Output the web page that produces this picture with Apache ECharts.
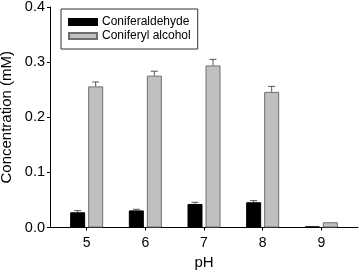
<!DOCTYPE html>
<html><head><meta charset="utf-8">
<script src="https://cdn.jsdelivr.net/npm/echarts@6/dist/echarts.min.js"></script>
<style>html,body{margin:0;padding:0;background:#fff}#c{width:359px;height:272px}</style>
</head><body><div id="c"></div>
<script>
var phValues = [5, 6, 7, 8, 9];
var aldehyde = [0.0276, 0.031, 0.0427, 0.0458, 0.002];
var aldehydeErr = [0.003, 0.002, 0.003, 0.003, 0];
var alcohol = [0.256, 0.2755, 0.294, 0.246, 0.0095];
var alcoholErr = [0.008, 0.008, 0.011, 0.010, 0];
var yTicks = [0, 0.1, 0.2, 0.3, 0.4];

var FONT = 'Liberation Sans';
function pairs(v){ return phValues.map(function(x,i){ return [x, v[i]]; }); }
function triples(v,e){ return phValues.map(function(x,i){ return [x, v[i], e[i]]; }); }
function errRender(dx){
  return function(params, api){
    var x = api.value(0), y = api.value(1), e = api.value(2);
    if (!e) return null;
    var p1 = api.coord([x, y]), p2 = api.coord([x, y + e]);
    var cx = p1[0] + dx;
    return {type:'group', children:[
      {type:'line', shape:{x1:cx,y1:p1[1],x2:cx,y2:p2[1]}, style:{stroke:'#555',lineWidth:1}},
      {type:'line', shape:{x1:cx-3.5,y1:p2[1],x2:cx+3.5,y2:p2[1]}, style:{stroke:'#555',lineWidth:1}}
    ]};
  };
}
var chart = echarts.init(document.getElementById('c'));
chart.setOption({
  animation:false,
  textStyle:{fontFamily:FONT},
  grid:{left:50, right:1, top:7, bottom:44.5, outerBoundsMode:'none', containLabel:false},
  legend:{
    orient:'vertical', left:61, top:9, padding:[7,7,7,7], itemGap:2, icon:'rect',
    itemWidth:28, itemHeight:6, borderColor:'#333', borderWidth:1,
    textStyle:{fontFamily:FONT, fontSize:12, color:'#000'},
    data:['Coniferaldehyde','Coniferyl alcohol']
  },
  xAxis:{
    type:'value', min:4.375, max:9.625,
    name:'pH', nameLocation:'middle', nameGap:28,
    nameTextStyle:{fontFamily:FONT, fontSize:15, color:'#000'},
    axisLine:{show:true, onZero:false, lineStyle:{color:'#000'}},
    axisTick:{show:true, inside:false, length:3, customValues:phValues, lineStyle:{color:'#000'}},
    axisLabel:{customValues:phValues, fontFamily:FONT, fontSize:14, color:'#000', margin:9},
    splitLine:{show:false}
  },
  yAxis:{
    type:'value', min:0, max:0.4, interval:0.1,
    name:'Concentration (mM)', nameLocation:'middle', nameGap:36,
    nameTextStyle:{fontFamily:FONT, fontSize:15, color:'#000'},
    axisLine:{show:true, lineStyle:{color:'#000'}},
    axisTick:{show:true, length:3, customValues:yTicks, lineStyle:{color:'#000'}},
    axisLabel:{customValues:yTicks, fontFamily:FONT, fontSize:14.5, color:'#000', margin:5,
      formatter:function(v){return v.toFixed(1);}},
    splitLine:{show:false}
  },
  series:[
    {name:'Coniferaldehyde', type:'bar', barWidth:15, barGap:'20%',
     itemStyle:{color:'#000', borderColor:'#000', borderWidth:1}, data:pairs(aldehyde)},
    {name:'Coniferyl alcohol', type:'bar', barWidth:15,
     itemStyle:{color:'#c0c0c0', borderColor:'#6e6e6e', borderWidth:1}, data:pairs(alcohol)},
    {type:'custom', renderItem:errRender(-9), data:triples(aldehyde, aldehydeErr), z:5},
    {type:'custom', renderItem:errRender(9), data:triples(alcohol, alcoholErr), z:5}
  ]
});
</script></body></html>
